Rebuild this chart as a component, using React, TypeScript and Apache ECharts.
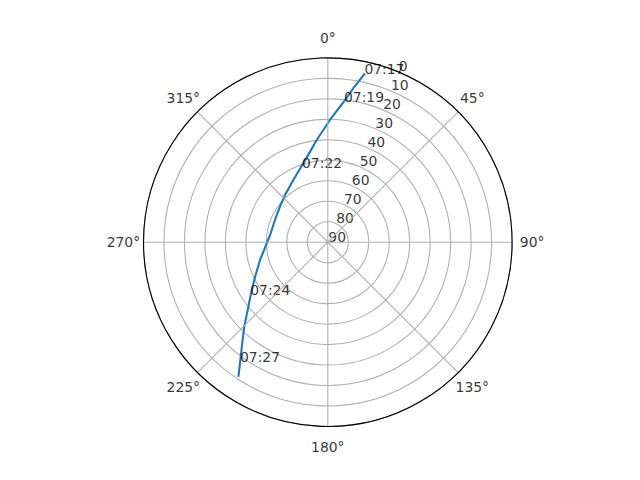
import React, { useEffect, useRef } from "react";
import * as echarts from "echarts";

// Radial (elevation) ticks: 0 at the rim, 90 at the centre
const ELEVATION_TICKS = [0, 10, 20, 30, 40, 50, 60, 70, 80, 90];
const ELEVATION_TICK_LABELS = ["0", "10", "20", "30", "40", "50", "60", "70", "80", "90"];

// Azimuth ticks (degrees, clockwise from north)
const AZIMUTH_TICKS = [0, 45, 90, 135, 180, 225, 270, 315];
const AZIMUTH_TICK_LABELS = ["0°", "45°", "90°", "135°", "180°", "225°", "270°", "315°"];

// Satellite track (elevation, azimuth)
const TRACK_ELEVATION = [5.6, 13.0, 20.1, 30.3, 39.8, 46.3, 55.3, 58.9, 60.9, 62.0, 61.6, 55.8, 50.7, 45.0, 38.8, 32.0, 24.9, 17.5, 11.1];
const TRACK_AZIMUTH = [12.4, 9.7, 6.9, 1.0, 353.8, 347.4, 331.0, 317.8, 306.6, 292.8, 277.1, 255.3, 244.6, 236.4, 229.8, 224.7, 220.0, 216.2, 213.6];

// Time annotations
const PASS_TIMES = ["07:17", "07:19", "07:22", "07:24", "07:27"];
const PASS_TIME_ELEVATION = [5.6, 20.6, 51.5, 44.4, 17.7];
const PASS_TIME_AZIMUTH = [12.4, 6.75, 341.3, 235.6, 216.15];

const RADIAL_LABEL_AZIMUTH = 22.5;
const AZIMUTH_LABEL_ELEVATION = -9.8;

const FONT = "DejaVu Sans";
const FS = 13.9;

export default function App() {
  const ref = useRef<HTMLDivElement>(null);
  useEffect(() => {
    if (!ref.current) return;
    const chart = echarts.init(ref.current, undefined, { renderer: "svg" });
    const option: any = {
      animation: false,
      backgroundColor: "#ffffff",
      polar: { center: [327.8, 242.2], radius: 184.3 },
      angleAxis: {
        type: "value",
        min: 0,
        max: 360,
        interval: 45,
        startAngle: 90,
        clockwise: true,
        z: 5,
        axisLine: { show: true, lineStyle: { color: "#000000", width: 1.1 } },
        axisTick: { show: false },
        axisLabel: { show: false },
        splitLine: { show: true, lineStyle: { color: "#b0b0b0", width: 1.1 } },
      },
      radiusAxis: {
        type: "value",
        min: 0,
        max: 90,
        interval: 10,
        inverse: true,
        axisLine: { show: false },
        axisTick: { show: false },
        axisLabel: { show: false },
        splitLine: { show: true, lineStyle: { color: "#b0b0b0", width: 1.1 } },
      },
      series: [
        {
          type: "line",
          coordinateSystem: "polar",
          data: TRACK_ELEVATION.map((e, i) => [e, TRACK_AZIMUTH[i]]),
          symbol: "none",
          lineStyle: { color: "#1f77b4", width: 2.08 },
          z: 3,
          silent: true,
        },
        {
          type: "scatter",
          coordinateSystem: "polar",
          clip: false,
          silent: true,
          symbolSize: 1,
          itemStyle: { color: "rgba(0,0,0,0)" },
          data: ELEVATION_TICKS.map((e, i) => ({ value: [e, RADIAL_LABEL_AZIMUTH], name: ELEVATION_TICK_LABELS[i] })),
          label: {
            show: true,
            position: [0, 0],
            align: "left",
            verticalAlign: "bottom",
            offset: [1, 2],
            formatter: (p: any) => p.name,
            fontFamily: FONT,
            fontSize: FS,
            color: "#000000",
          },
          z: 4,
        },
        {
          type: "scatter",
          coordinateSystem: "polar",
          clip: false,
          silent: true,
          symbolSize: 1,
          itemStyle: { color: "rgba(0,0,0,0)" },
          data: AZIMUTH_TICKS.map((a, i) => ({ value: [AZIMUTH_LABEL_ELEVATION, a], name: AZIMUTH_TICK_LABELS[i] })),
          label: {
            show: true,
            position: "inside",
            formatter: (p: any) => p.name,
            fontFamily: FONT,
            fontSize: FS,
            color: "#000000",
          },
          z: 4,
        },
        {
          type: "scatter",
          coordinateSystem: "polar",
          clip: false,
          silent: true,
          symbolSize: 1,
          itemStyle: { color: "rgba(0,0,0,0)" },
          data: PASS_TIMES.map((t, i) => ({ value: [PASS_TIME_ELEVATION[i], PASS_TIME_AZIMUTH[i]], name: t })),
          label: {
            show: true,
            position: [0, 0],
            align: "left",
            verticalAlign: "bottom",
            offset: [0, 3],
            formatter: (p: any) => p.name,
            fontFamily: FONT,
            fontSize: FS,
            color: "#000000",
          },
          z: 4,
        },
      ],
    };
    chart.setOption(option);
    return () => chart.dispose();
  }, []);
  return (
    <div
      ref={ref}
      style={{ position: "fixed", left: 0, top: 0, width: 640, height: 480, background: "#fff" }}
    />
  );
}
